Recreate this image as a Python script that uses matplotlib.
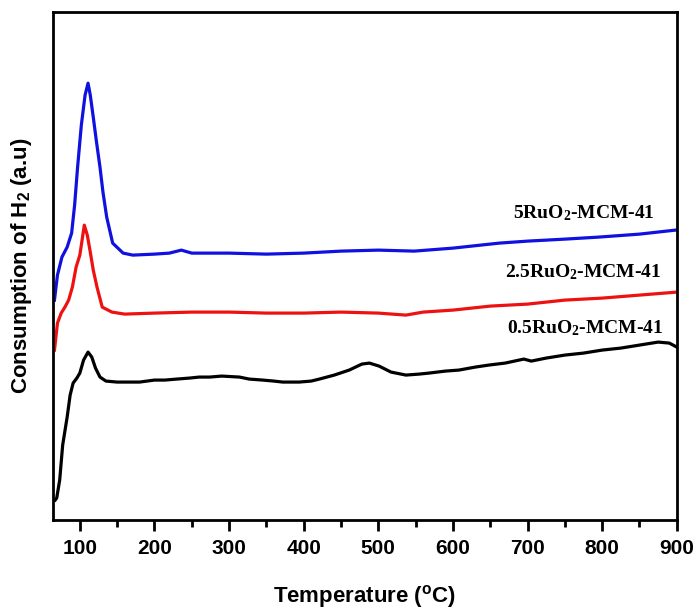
import matplotlib.pyplot as plt

plt.rcParams['mathtext.default'] = 'regular'

# temperatures (C) and signal (arbitrary units)
t_black = [67, 69, 73, 77, 83, 87, 91, 96, 100, 105, 111, 116, 121, 127, 135, 150, 165, 180,
           200, 214, 230, 247, 260, 274, 290, 314, 327, 345, 360, 372, 385, 394, 410, 421,
           441, 461, 478, 488, 501, 517, 537, 555, 568, 590, 608, 630, 648, 670, 695, 705,
           725, 750, 775, 800, 825, 850, 875, 890, 900]
v_black = [20, 22, 40, 75, 103, 125, 137, 142, 147, 160, 168, 163, 152, 143, 139, 138, 138, 138,
           140, 140, 141, 142, 143, 143, 144, 143, 141, 140, 139, 138, 138, 138, 139, 141,
           145, 150, 156, 157, 154, 148, 145, 146, 147, 149, 150, 153, 155, 157, 161, 159,
           162, 165, 167, 170, 172, 175, 178, 177, 173]

t_red = [66, 70, 75, 80, 85, 90, 95, 100, 103, 106, 110, 114, 118, 123, 130, 143, 160, 200,
         250, 300, 350, 400, 450, 500, 537, 560, 600, 650, 700, 750, 800, 850, 900]
v_red = [170, 197, 207, 213, 220, 233, 253, 265, 280, 295, 285, 268, 250, 233, 213, 208, 206, 207,
         208, 208, 207, 207, 208, 207, 205, 208, 210, 214, 216, 220, 222, 225, 228]

t_blue = [66, 70, 76, 83, 89, 93, 97, 102, 107, 111, 114, 118, 122, 127, 131, 136, 144, 158,
          171, 200, 220, 236, 250, 300, 350, 400, 450, 500, 548, 600, 662, 700, 750, 795, 850, 898]
v_blue = [220, 245, 263, 273, 287, 315, 353, 395, 425, 437, 425, 403, 380, 353, 328, 303, 277, 267,
          265, 266, 267, 270, 267, 267, 266, 267, 269, 270, 269, 272, 277, 279, 281, 283, 286, 290]

labels = ['0.5RuO$_2$-MCM-41', '2.5RuO$_2$-MCM-41', '5RuO$_2$-MCM-41']
label_x = [882, 879, 871]
label_y = [192, 248, 307]

fig = plt.figure(figsize=(6.97, 6.10), dpi=100)
ax = fig.add_axes([0.076, 0.1475, 0.895, 0.8325])

ax.plot(t_black, v_black, color='black', lw=2.3)
ax.plot(t_red, v_red, color='#ee1111', lw=2.3)
ax.plot(t_blue, v_blue, color='#1010e0', lw=2.3)

for lab, xx, yy in zip(labels, label_x, label_y):
    ax.text(xx, yy, lab, ha='right', va='center', fontsize=14, fontweight='bold',
            family='Liberation Serif')

ax.set_xlim(64, 900)
ax.set_ylim(0, 508)
ax.set_xticks(range(100, 901, 100))
ax.set_xticks(range(150, 900, 100), minor=True)
ax.set_yticks([])
ax.tick_params(axis='x', which='major', direction='out', length=8, width=2, pad=6)
ax.tick_params(axis='x', which='minor', direction='out', length=5, width=2)
for lbl in ax.get_xticklabels():
    lbl.set_fontsize(15)
    lbl.set_fontweight('bold')
    lbl.set_family('Liberation Sans')
for s in ax.spines.values():
    s.set_linewidth(2)

ax.set_xlabel('Temperature ($^o$C)', fontsize=16, fontweight='bold',
              family='Liberation Sans', labelpad=18)
ax.set_ylabel('Consumption of H$_2$ (a.u)', fontsize=16, fontweight='bold',
              family='Liberation Sans', labelpad=14)

fig.savefig('out.png', dpi=100)
